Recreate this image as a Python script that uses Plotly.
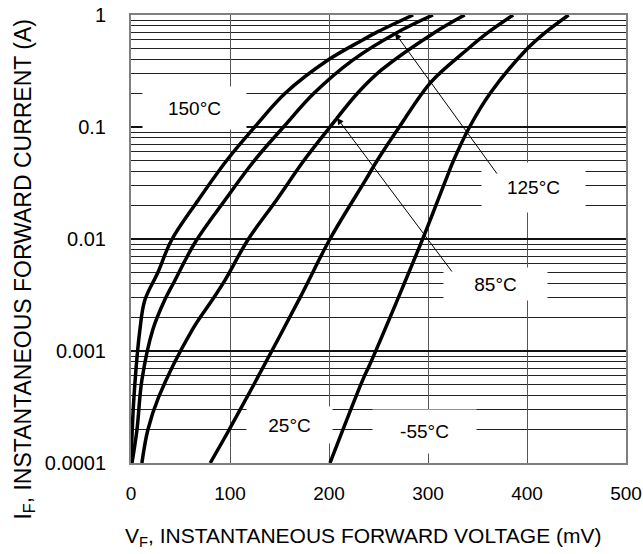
import plotly.graph_objects as go

# ---- data ----
v_150 = [0, 3, 9, 14, 27, 41, 68, 97, 125, 156, 199, 234, 247, 285]
i_150 = [1e-4, 3.9e-4, 1.55e-3, 2.85e-3, 5.0e-3, 9.8e-3, 0.0223, 0.0507, 0.1, 0.201, 0.396, 0.598, 0.692, 1.0]

v_125 = [1, 6, 11, 22, 34, 43, 65, 95, 125, 154, 185, 224, 268, 305]
i_125 = [1e-4, 1.97e-4, 5.5e-4, 1.55e-3, 2.85e-3, 4.05e-3, 9.4e-3, 0.0223, 0.0507, 0.1, 0.201, 0.396, 0.692, 1.0]

v_85 = [11, 17, 28, 62, 82, 95, 118, 147, 175, 201, 229, 253, 306, 337]
i_85 = [1e-4, 1.97e-4, 3.89e-4, 1.55e-3, 2.85e-3, 4.3e-3, 9.8e-3, 0.0223, 0.0507, 0.1, 0.201, 0.323, 0.692, 1.0]

v_25 = [80, 99, 124, 171, 201, 237, 249, 271, 303, 339, 360, 386]
i_25 = [1e-4, 1.97e-4, 5.0e-4, 3.03e-3, 0.01, 0.0337, 0.0507, 0.1, 0.252, 0.487, 0.692, 1.0]

v_m55 = [201, 234, 241, 269, 297, 318, 326, 342, 363, 399, 418, 442]
i_m55 = [1e-4, 5.5e-4, 7.5e-4, 2.85e-3, 0.0113, 0.0337, 0.0507, 0.1, 0.201, 0.487, 0.692, 1.0]

x_ticks = [0, 100, 200, 300, 400, 500]
y_ticks = [0.0001, 0.001, 0.01, 0.1, 1]
y_tick_labels = ["0.0001", "0.001", "0.01", "0.1", "1"]

series = [
    ("150°C", v_150, i_150),
    ("125°C", v_125, i_125),
    ("85°C", v_85, i_85),
    ("25°C", v_25, i_25),
    ("-55°C", v_m55, i_m55),
]

FONT = "Liberation Sans, Arial, sans-serif"

fig = go.Figure()
for name, vx, iy in series:
    fig.add_trace(go.Scatter(
        x=vx, y=iy, mode="lines", name=name,
        line=dict(color="black", width=3.5, shape="spline", smoothing=1.0),
        showlegend=False, hoverinfo="skip",
    ))

# label boxes (white background hides the grid behind the text)
labels = [
    ("150°C", 64.1, -0.830, 103, 42),
    ("125°C", 406.6, -1.540, 103, 49),
    ("85°C", 368.2, -2.402, 103, 32),
    ("25°C", 160.1, -3.661, 85, 36),
    ("-55°C", 296.5, -3.719, 103, 43),
]
annotations = []
for txt, x, y, w, h in labels:
    annotations.append(dict(
        x=x, y=y, xref="x", yref="y", text=txt, showarrow=False,
        width=w, height=h, bgcolor="white", borderpad=0,
        font=dict(family=FONT, size=19, color="black"),
    ))

# arrows
arrows = [
    (266.7, -0.161, 370.7, -1.429),
    (208.1, -0.920, 325.3, -2.304),
]
for x, y, ax, ay in arrows:
    annotations.append(dict(
        x=x, y=y, ax=ax, ay=ay, xref="x", yref="y", axref="x", ayref="y",
        text="", showarrow=True, arrowhead=2, arrowsize=1.3, arrowwidth=1,
        arrowcolor="black",
    ))

# axis titles
annotations.append(dict(
    text="V<sub>F</sub>, INSTANTANEOUS FORWARD VOLTAGE (mV)",
    xref="paper", yref="paper", x=0.468, y=-0.165,
    xanchor="center", yanchor="middle", showarrow=False,
    font=dict(family=FONT, size=21, color="black"),
))
annotations.append(dict(
    text="I<sub>F</sub>, INSTANTANEOUS FORWARD CURRENT (A)",
    xref="paper", yref="paper", x=-0.216, y=0.432, textangle=-90,
    xanchor="center", yanchor="middle", showarrow=False,
    font=dict(family=FONT, size=23, color="black"),
))

fig.update_layout(
    width=643, height=554,
    margin=dict(l=131, r=17, t=15, b=91, autoexpand=False),
    paper_bgcolor="white", plot_bgcolor="white",
    font=dict(family=FONT, size=19, color="black"),
    annotations=annotations,
)

fig.update_xaxes(
    range=[0, 500], tickvals=x_ticks, ticktext=[str(t) for t in x_ticks],
    showgrid=True, gridcolor="#555555", gridwidth=1,
    showline=True, linecolor="#7f7f7f", linewidth=2, mirror=True,
    ticks="", ticklabelstandoff=12, zeroline=False, automargin=False,
    tickfont=dict(size=19),
)
fig.update_yaxes(
    type="log", range=[-4, 0], tickvals=y_ticks, ticktext=y_tick_labels,
    showgrid=True, gridcolor="#111111", gridwidth=1.5,
    minor=dict(dtick="D1", showgrid=True, gridcolor="#222222", gridwidth=1, ticks=""),
    showline=True, linecolor="#7f7f7f", linewidth=2, mirror=True,
    ticks="", ticklabelstandoff=19, zeroline=False, automargin=False,
    tickfont=dict(size=20),
)

fig.write_html("out.html", config={"displayModeBar": False},
               post_script="document.body.style.margin='0';document.body.style.overflow='hidden';")
